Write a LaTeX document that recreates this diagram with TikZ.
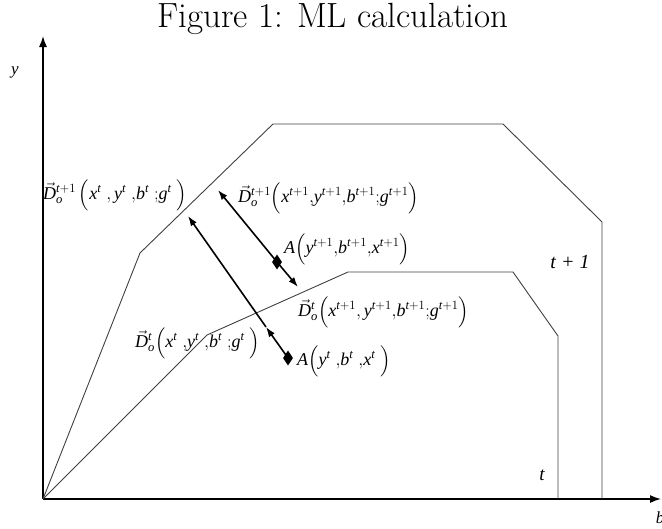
\RequirePackage{fix-cm}
\documentclass[tikz,border=0pt]{standalone}
\usepackage{amsmath}
\usepackage{fontspec}
\setmainfont{Liberation Serif}
\newfontfamily\lmrfont{Latin Modern Roman}
\usetikzlibrary{shapes.geometric,arrows.meta}
\newcommand\mi[1]{\mathit{#1}}
\newcommand\Dv{\vec{\mathit{D}}}
\newcommand\tp{\mi{t}\mathrm{+}1}
\newcommand\st{^{\mi{t}}\;}
\tikzset{
  axis/.style={line width=1.4pt,-{Latex[length=11pt,width=8pt]}},
  frontier/.style={line width=0.9pt,draw=black!75},
  arr/.style={line width=1.6pt,-{Latex[length=10pt,width=7pt]}},
  lbl/.style={inner sep=0pt,anchor=west,font=\fontsize{18}{21}\selectfont},
  dmd/.style={diamond,fill=black,inner sep=0pt,minimum width=10pt,minimum height=15pt}
}
\begin{document}
\begin{tikzpicture}[x=1pt,y=-1pt]
\useasboundingbox (0,0) rectangle (662,528);
\node[inner sep=0pt,font=\lmrfont\fontsize{35}{38}\selectfont] (title) at (333,19) {Figure 1: ML calculation};
\coordinate (O) at (43,499);
\coordinate (ytop) at (43,36);
\coordinate (xend) at (661,499);
\draw[axis] (O) -- (ytop);
\draw[axis] (O) -- (xend);
\node[font=\fontsize{17}{20}\selectfont\itshape] (ylab) at (15,72) {y};
\node[font=\fontsize{17}{20}\selectfont\itshape] (blab) at (660,518) {b};
% frontiers
\draw[frontier] (O) -- (140,253) -- (273,124) -- (503,124) -- (602,222) -- (602,499);
\draw[frontier] (O) -- (207,335) -- (348,272) -- (513,272) -- (558,336) -- (558,499);
\node[font=\fontsize{20}{24}\selectfont\itshape] (tp1) at (570,262) {t + 1};
\node[font=\fontsize{19}{22}\selectfont\itshape] (tt) at (542,475) {t};
% diamonds
\node[dmd] (d1) at (288,358) {};
\node[dmd] (d2) at (277,262) {};
\coordinate (m1) at (266,327);
\coordinate (t1) at (188,216);
\coordinate (t2) at (218,190);
\coordinate (t3) at (298,287);
\draw[arr] (d1.center) -- (m1);
\draw[arr] (m1) -- (t1);
\draw[arr] (d2.center) -- (t2);
\draw[arr] (d2.center) -- (t3);
% labels
\node[lbl] (L1) at (43,195) {$\Dv_{\mi{o}}^{\tp}\,\Bigl(\mi{x}\st{,}\,\mi{y}\st{,}\mi{b}\st{;}\mi{g}\st\Bigr)$};
\node[lbl] (L2) at (238,198) {$\Dv_{\mi{o}}^{\tp}\Bigl(\mi{x}^{\tp}{,}\mi{y}^{\tp}{,}\mi{b}^{\tp}{;}\mi{g}^{\tp}\Bigr)$};
\node[lbl] (L3) at (284,249) {$\mi{A}\Bigl(\mi{y}^{\tp}{,}\mi{b}^{\tp}{,}\mi{x}^{\tp}\Bigr)$};
\node[lbl] (L4) at (298,312) {$\Dv_{\mi{o}}^{\mi{t}}\Bigl(\mi{x}^{\tp}{,}\,\mi{y}^{\tp}{,}\mi{b}^{\tp}{;}\mi{g}^{\tp}\Bigr)$};
\node[lbl] (L5) at (135,343) {$\Dv_{\mi{o}}^{\mi{t}}\Bigl(\mi{x}\st{,}\mi{y}\st{,}\mi{b}\st{;}\mi{g}\st\Bigr)$};
\node[lbl] (L6) at (297,361) {$\mi{A}\Bigl(\mi{y}\st{,}\mi{b}\st{,}\mi{x}\st\Bigr)$};
\end{tikzpicture}
\end{document}
